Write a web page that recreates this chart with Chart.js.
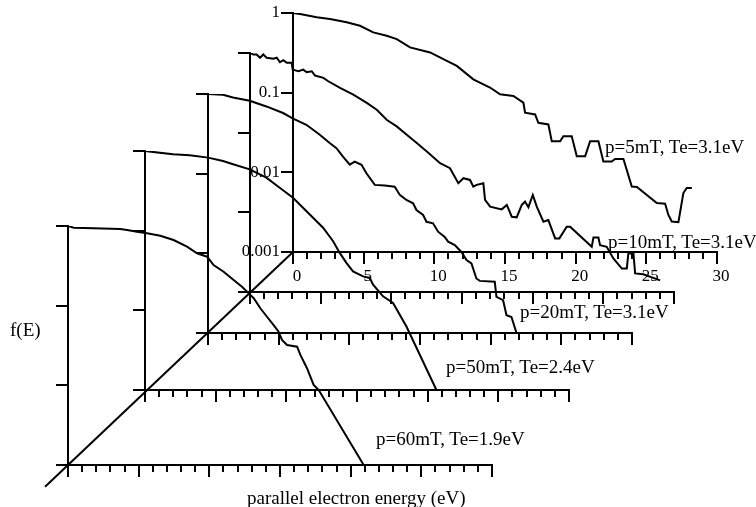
<!DOCTYPE html>
<html>
<head>
<meta charset="utf-8">
<script src="https://cdn.jsdelivr.net/npm/chart.js@4/dist/chart.umd.min.js"></script>
<style>
  html, body { margin: 0; padding: 0; background: #fff; }
  #wrap { position: relative; width: 756px; height: 507px; overflow: hidden;
          font-family: "Liberation Serif", "Times New Roman", serif; color: #000; }
  #wrap canvas { position: absolute; left: 0; top: 0; }
  .lbl { position: absolute; font-size: 19px; line-height: 20px; white-space: nowrap; transform: translateY(-50%); }
</style>
</head>
<body>
<div id="wrap"></div>
<script>
// Parallel electron energy distributions, one per discharge pressure.
const seriesNames = ['p=5mT, Te=3.1eV', 'p=10mT, Te=3.1eV', 'p=20mT, Te=3.1eV', 'p=50mT, Te=2.4eV', 'p=60mT, Te=1.9eV'];

// energy (eV) and normalised f(E) for each pressure
const energy5mT = [0, 0.5, 1.68, 2.62, 3.80, 4.74, 5.68, 6.63, 7.34, 8.28, 9.70, 10.64, 11.59, 12.76, 13.94, 14.65, 15.59, 16.30, 16.42, 17.13, 17.36, 18.07, 18.31, 18.90, 19.13, 19.72, 20.08, 20.67, 21.02, 21.61, 21.96, 22.55, 22.79, 23.38, 23.97, 24.33, 25.74, 26.33, 26.56, 26.80, 27.27, 27.62, 27.86, 28.22];
const fe5mT = [1, 0.971, 0.883, 0.840, 0.764, 0.692, 0.571, 0.518, 0.470, 0.370, 0.320, 0.263, 0.217, 0.147, 0.116, 0.0953, 0.0908, 0.0748, 0.0560, 0.0533, 0.0419, 0.0399, 0.0245, 0.0245, 0.0284, 0.0284, 0.0159, 0.0159, 0.0245, 0.0245, 0.0137, 0.0137, 0.0147, 0.0147, 0.00665, 0.00655, 0.00411, 0.00403, 0.00292, 0.00241, 0.00237, 0.00550, 0.00635, 0.00635];

const energy10mT = [0, 0.23, 0.47, 0.71, 0.94, 1.18, 1.65, 1.89, 2.12, 2.36, 2.60, 2.95, 3.02, 3.42, 3.77, 4.01, 4.37, 4.60, 5.19, 5.54, 6.37, 7.31, 8.26, 8.97, 9.67, 10.38, 11.09, 11.80, 12.51, 13.45, 14.15, 14.74, 15.10, 15.57, 15.80, 16.04, 16.51, 16.63, 16.99, 17.81, 18.17, 18.52, 18.87, 19.23, 19.46, 19.70, 20.01, 20.29, 20.76, 21.11, 21.59, 21.89, 22.41, 22.65, 24.18, 24.30, 24.65, 24.77, 25.24, 25.71, 26.31, 26.66, 26.77, 27.13, 27.25, 27.83, 29.02];
const fe10mT = [1, 0.957, 0.957, 0.871, 0.957, 0.871, 0.845, 0.871, 0.766, 0.811, 0.753, 0.753, 0.619, 0.590, 0.619, 0.573, 0.590, 0.521, 0.488, 0.442, 0.365, 0.300, 0.236, 0.194, 0.145, 0.120, 0.0942, 0.0740, 0.0579, 0.0414, 0.0358, 0.0232, 0.0268, 0.0255, 0.0210, 0.0221, 0.0232, 0.0143, 0.0118, 0.0109, 0.0124, 0.00881, 0.00865, 0.0124, 0.0136, 0.0116, 0.0165, 0.0118, 0.00762, 0.00800, 0.00471, 0.00471, 0.00659, 0.00659, 0.00369, 0.00484, 0.00484, 0.00387, 0.00369, 0.00264, 0.00197, 0.00197, 0.00305, 0.00305, 0.00171, 0.00167, 0.00140];

const energy20mT = [0, 1.06, 1.77, 2.95, 4.13, 5.31, 6.02, 6.96, 7.91, 8.61, 9.09, 9.55, 10.03, 10.38, 10.86, 11.21, 11.80, 12.51, 13.21, 13.57, 14.04, 14.51, 14.75, 15.22, 15.46, 15.92, 16.28, 16.75, 16.99, 17.46, 17.93, 18.29, 18.64, 18.99, 19.23, 20.29, 20.41, 20.88, 21.12, 21.47, 21.83];
const fe20mT = [1, 0.979, 0.906, 0.824, 0.698, 0.577, 0.492, 0.411, 0.308, 0.242, 0.209, 0.164, 0.130, 0.142, 0.129, 0.101, 0.0723, 0.0708, 0.0687, 0.0541, 0.0468, 0.0425, 0.0350, 0.0303, 0.0249, 0.0238, 0.0187, 0.0161, 0.0140, 0.0127, 0.0104, 0.00822, 0.00746, 0.00484, 0.00451, 0.00439, 0.00284, 0.00258, 0.00167, 0.00159, 0.001];

const energy50mT = [0, 0.57, 1.98, 3.16, 4.46, 5.52, 6.23, 7.41, 8.59, 9.53, 10.47, 11.18, 11.89, 12.60, 13.31, 13.78, 14.25, 14.72, 15.43, 15.90, 16.14, 16.84, 17.55, 18.50, 20.62];
const fe50mT = [1, 0.973, 0.910, 0.883, 0.826, 0.748, 0.681, 0.589, 0.462, 0.346, 0.259, 0.194, 0.145, 0.109, 0.0736, 0.0526, 0.0394, 0.0308, 0.0267, 0.0255, 0.0210, 0.0150, 0.0124, 0.00627, 0.001];

const energy60mT = [0, 0.40, 1.81, 3.70, 4.18, 4.88, 5.59, 6.53, 7.47, 8.42, 9.13, 9.84, 10.30, 11.01, 11.72, 12.31, 12.67, 13.14, 13.61, 14.08, 14.55, 14.90, 15.14, 15.50, 16.21, 16.44, 16.91, 17.38, 17.74, 20.92];
const fe60mT = [1, 0.953, 0.935, 0.916, 0.891, 0.848, 0.809, 0.755, 0.667, 0.550, 0.454, 0.412, 0.324, 0.267, 0.210, 0.173, 0.150, 0.124, 0.0927, 0.0726, 0.0571, 0.0471, 0.0371, 0.0321, 0.0305, 0.0241, 0.0164, 0.0101, 0.00873, 0.001];

const energies = [energy5mT, energy10mT, energy20mT, energy50mT, energy60mT];
const fValues = [fe5mT, fe10mT, fe20mT, fe50mT, fe60mT];

// axis ticks
const yTickValues = [0.001, 0.01, 0.1, 1];
const xRange = [0, 30];
const xMinorStep = 1;
const xMajorStep = 5;

// page layout: pixel origin (E=0, f=0.001) of each receding panel
const W = 756, H = 507;
const panelOrigins = [[293, 252], [250, 292], [208, 333], [145, 390], [68, 465]];
const PANEL_W = 424, PANEL_H = 239;
const seriesLabelPos = [[605, 147], [608, 242], [520, 312], [446, 367], [376, 439]];

const wrap = document.getElementById('wrap');
const serif = 'Liberation Serif, Times New Roman, serif';
const charts = [];

// diagonal depth axis through the panel origins
const depthAxis = {
  id: 'depthAxis',
  afterDraw(chart) {
    const first = charts[0];
    const a = [first.scales.x.getPixelForValue(0), first.scales.y.getPixelForValue(0.001)];
    const b = [chart.scales.x.getPixelForValue(0), chart.scales.y.getPixelForValue(0.001)];
    const t = 0.102;
    const ctx = chart.ctx;
    ctx.save();
    ctx.strokeStyle = '#000';
    ctx.lineWidth = 2;
    ctx.beginPath();
    ctx.moveTo(a[0], a[1]);
    ctx.lineTo(b[0] + (b[0] - a[0]) * t, b[1] + (b[1] - a[1]) * t);
    ctx.stroke();
    ctx.restore();
  }
};

function makePanel(i) {
  const [ox, oy] = panelOrigins[i];
  const canvas = document.createElement('canvas');
  canvas.width = W; canvas.height = H;
  wrap.appendChild(canvas);
  const labelled = i === 0;
  // room reserved for tick labels (only the rear panel carries them)
  const yBox = labelled ? 70 : 0;
  const xBox = labelled ? 32 : 0;
  const tickFont = { family: serif, size: 17 };
  const chart = new Chart(canvas, {
    type: 'line',
    data: {
      datasets: [{
        label: seriesNames[i],
        data: energies[i].map((e, k) => ({ x: e, y: fValues[i][k] })),
        borderColor: '#000',
        borderWidth: 2,
        pointRadius: 0,
        tension: 0,
        fill: false
      }]
    },
    options: {
      responsive: false,
      animation: false,
      devicePixelRatio: 1,
      events: [],
      layout: { padding: { left: ox - yBox, top: oy - PANEL_H, right: W - ox - PANEL_W, bottom: H - oy - xBox } },
      plugins: { legend: { display: false }, tooltip: { enabled: false } },
      scales: {
        x: {
          type: 'linear', min: xRange[0], max: xRange[1], weight: 0,
          afterFit: s => { s.height = 0; },
          ticks: { stepSize: xMinorStep, maxTicksLimit: 100, display: false, autoSkip: false },
          grid: { drawOnChartArea: false, tickLength: 7, color: '#000', lineWidth: 2 },
          border: { display: true, color: '#000', width: 2 }
        },
        xMajor: {
          axis: 'x', type: 'linear', position: 'bottom', min: xRange[0], max: xRange[1], weight: 1,
          afterFit: s => { s.height = xBox; },
          ticks: { stepSize: xMajorStep, display: labelled, autoSkip: false, maxRotation: 0,
                   font: tickFont, color: '#000', padding: 2, labelOffset: 4 },
          grid: { drawOnChartArea: false, tickLength: 12, color: '#000', lineWidth: 2 },
          border: { display: false }
        },
        y: {
          type: 'logarithmic', min: yTickValues[0], max: yTickValues[yTickValues.length - 1],
          afterFit: s => { s.width = yBox; },
          afterBuildTicks: s => { s.ticks = yTickValues.map(v => ({ value: v })); },
          ticks: { display: labelled, font: tickFont, color: '#000', padding: 1,
                   callback: v => String(v) },
          grid: { drawOnChartArea: false, tickLength: 12, color: '#000', lineWidth: 2 },
          border: { display: true, color: '#000', width: 2 }
        }
      }
    },
    plugins: i === panelOrigins.length - 1 ? [depthAxis] : []
  });
  charts.push(chart);
}

for (let i = 0; i < panelOrigins.length; i++) makePanel(i);

function addText(text, left, top) {
  const d = document.createElement('div');
  d.className = 'lbl';
  d.textContent = text;
  d.style.left = left + 'px';
  d.style.top = top + 'px';
  wrap.appendChild(d);
}
seriesNames.forEach((name, i) => addText(name, seriesLabelPos[i][0], seriesLabelPos[i][1]));
addText('f(E)', 10, 330);
addText('parallel electron energy (eV)', 247, 498);
</script>
</body>
</html>
